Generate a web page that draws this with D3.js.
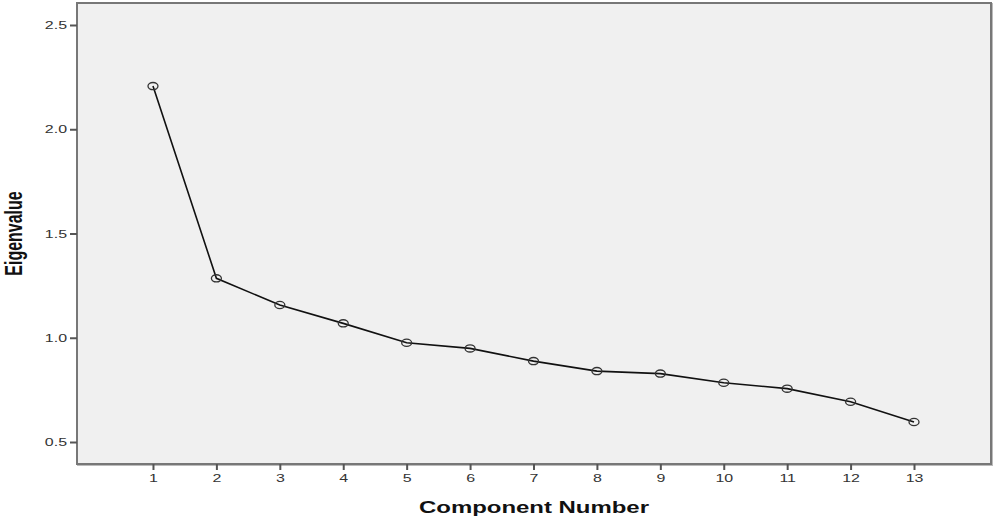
<!DOCTYPE html>
<html><head><meta charset="utf-8">
<script src="https://cdn.jsdelivr.net/npm/d3@7"></script>
<style>
html,body{margin:0;padding:0;background:#fff;}
svg{display:block;}
text{font-family:"Liberation Sans",Arial,"DejaVu Sans",sans-serif;}
</style></head>
<body>
<svg id="chart" width="996" height="518"></svg>
<script>
const components = [1,2,3,4,5,6,7,8,9,10,11,12,13];
const eigenvalues = [2.207,1.285,1.157,1.069,0.976,0.949,0.888,0.840,0.828,0.784,0.756,0.693,0.596];
const yTicks = [0.5,1.0,1.5,2.0,2.5];
const xTitle = "Component Number";
const yTitle = "Eigenvalue";

const svg = d3.select("#chart");
const L=77, T=3, R=991, B=464;
const STRETCH = 1.45;

const x = d3.scaleLinear().domain([-0.198,14.214]).range([L,R]);
const y = d3.scaleLinear().domain([0.3945,2.6055]).range([B,T]);

// plot background with slight shadow
svg.append("rect").attr("x",L+1).attr("y",T+1).attr("width",R-L).attr("height",B-T)
  .attr("fill","none").attr("stroke","#bbb").attr("stroke-width",2);
svg.append("rect").attr("x",L).attr("y",T).attr("width",R-L).attr("height",B-T)
  .attr("fill","#f0f0f0").attr("stroke","#777").attr("stroke-width",2);

function stretchTexts(sel){
  sel.each(function(){
    const len=this.getComputedTextLength();
    d3.select(this).attr("textLength",len*STRETCH).attr("lengthAdjust","spacingAndGlyphs");
  });
}

// y axis
const yAxis = svg.append("g").attr("transform",`translate(${L},0)`)
  .call(d3.axisLeft(y).tickValues(yTicks).tickFormat(d3.format(".1f")).tickSize(7).tickPadding(3));
yAxis.select(".domain").remove();
yAxis.selectAll("line").attr("stroke","#555").attr("stroke-width",2);
yAxis.selectAll("text").attr("font-size",11).attr("fill","#333");
stretchTexts(yAxis.selectAll("text"));

// x axis
const xAxis = svg.append("g").attr("transform",`translate(0,${B})`)
  .call(d3.axisBottom(x).tickValues(components).tickFormat(d3.format("d")).tickSize(6).tickPadding(4));
xAxis.select(".domain").remove();
xAxis.selectAll("line").attr("stroke","#555").attr("stroke-width",2);
xAxis.selectAll("text").attr("font-size",11).attr("fill","#333");
stretchTexts(xAxis.selectAll("text"));

// line
const line = d3.line().x((d,i)=>x(components[i])).y(d=>y(d));
svg.append("path").datum(eigenvalues).attr("d",line)
  .attr("fill","none").attr("stroke","#111").attr("stroke-width",1.6);

// markers
svg.selectAll(".pt").data(eigenvalues).enter().append("ellipse")
  .attr("class","pt")
  .attr("cx",(d,i)=>x(components[i])).attr("cy",d=>y(d))
  .attr("rx",5).attr("ry",3.6)
  .attr("fill","none").attr("stroke","#333").attr("stroke-width",1.3);

// x title
const xt = svg.append("text").attr("x",(L+R)/2 - 0).attr("y",513)
  .attr("text-anchor","middle").attr("font-size",16).attr("font-weight","bold")
  .attr("fill","#111").text(xTitle);
xt.attr("textLength",230).attr("lengthAdjust","spacingAndGlyphs");

// y title
svg.append("text")
  .attr("transform",`translate(22,${(T+B)/2}) scale(1.45,1) rotate(-90)`)
  .attr("text-anchor","middle").attr("font-size",16).attr("font-weight","bold")
  .attr("fill","#111").text(yTitle);
</script>
</body></html>
